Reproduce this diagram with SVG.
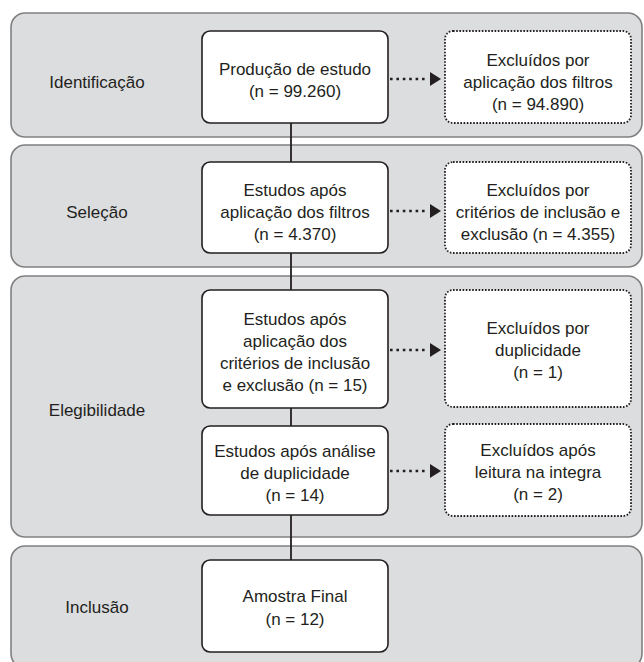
<svg xmlns="http://www.w3.org/2000/svg" width="644" height="662" viewBox="0 0 644 662">
<style>
.panel{fill:#dcdddf;stroke:#808082;stroke-width:1.6}
.box{fill:#ffffff;stroke:#231f20;stroke-width:1.6}
.dbox{fill:#ffffff;stroke:#231f20;stroke-width:1.8;stroke-dasharray:1.6 1.6}
.t{font-family:"Liberation Sans",Arial,sans-serif;font-size:17px;fill:#231f20;text-anchor:middle}
.vline{stroke:#231f20;stroke-width:1.8;fill:none}
.dline{stroke:#231f20;stroke-width:2.6;stroke-dasharray:2.6 3.8;fill:none}
</style>
<rect width="644" height="662" fill="#ffffff"/>
<g id="panel-identificacao">
<rect class="panel" x="11" y="13" width="631" height="124" rx="14"/>
<text class="t" x="97" y="88">Identificação</text>
</g>
<g id="panel-selecao">
<rect class="panel" x="11" y="145" width="631" height="122" rx="14"/>
<text class="t" x="97" y="218">Seleção</text>
</g>
<g id="panel-elegibilidade">
<rect class="panel" x="11" y="276" width="631" height="261" rx="14"/>
<text class="t" x="97" y="416">Elegibilidade</text>
</g>
<g id="panel-inclusao">
<rect class="panel" x="11" y="546" width="631" height="122" rx="14"/>
<text class="t" x="97" y="613">Inclusão</text>
</g>
<g id="connectors">
<line class="vline" x1="291" y1="123" x2="291" y2="162"/>
<line class="vline" x1="291" y1="253" x2="291" y2="290"/>
<line class="vline" x1="291" y1="408" x2="291" y2="426"/>
<line class="vline" x1="291" y1="515" x2="291" y2="560"/>
<line class="dline" x1="390" y1="79" x2="428" y2="79"/>
<path d="M430,72 L441,79 L430,86 Z" fill="#231f20"/>
<line class="dline" x1="390" y1="211" x2="428" y2="211"/>
<path d="M430,204 L441,211 L430,218 Z" fill="#231f20"/>
<line class="dline" x1="390" y1="350" x2="428" y2="350"/>
<path d="M430,343 L441,350 L430,357 Z" fill="#231f20"/>
<line class="dline" x1="390" y1="471" x2="428" y2="471"/>
<path d="M430,464 L441,471 L430,478 Z" fill="#231f20"/>
</g>
<g id="producao">
<rect class="box" x="202" y="31" width="186" height="92" rx="8"/>
<text class="t" x="295" y="75">Produção de estudo</text>
<text class="t" x="295" y="97">(n = 99.260)</text>
</g>
<g id="excluidos-filtros">
<rect class="dbox" x="445" y="31" width="186" height="92" rx="8"/>
<text class="t" x="538" y="66">Excluídos por</text>
<text class="t" x="538" y="88">aplicação dos filtros</text>
<text class="t" x="538" y="110">(n = 94.890)</text>
</g>
<g id="estudos-filtros">
<rect class="box" x="202" y="162" width="186" height="91" rx="8"/>
<text class="t" x="295" y="196">Estudos após</text>
<text class="t" x="295" y="218">aplicação dos filtros</text>
<text class="t" x="295" y="240">(n = 4.370)</text>
</g>
<g id="excluidos-criterios">
<rect class="dbox" x="445" y="162" width="186" height="91" rx="8"/>
<text class="t" x="538" y="196">Excluídos por</text>
<text class="t" x="538" y="218">critérios de inclusão e</text>
<text class="t" x="538" y="240">exclusão (n = 4.355)</text>
</g>
<g id="estudos-criterios">
<rect class="box" x="202" y="290" width="186" height="118" rx="8"/>
<text class="t" x="295" y="325">Estudos após</text>
<text class="t" x="295" y="347">aplicação dos</text>
<text class="t" x="295" y="369">critérios de inclusão</text>
<text class="t" x="295" y="391">e exclusão (n = 15)</text>
</g>
<g id="excluidos-duplicidade">
<rect class="dbox" x="445" y="290" width="186" height="117" rx="8"/>
<text class="t" x="538" y="334">Excluídos por</text>
<text class="t" x="538" y="356">duplicidade</text>
<text class="t" x="538" y="378">(n = 1)</text>
</g>
<g id="estudos-duplicidade">
<rect class="box" x="202" y="426" width="186" height="89" rx="8"/>
<text class="t" x="295" y="457">Estudos após análise</text>
<text class="t" x="295" y="479">de duplicidade</text>
<text class="t" x="295" y="501">(n = 14)</text>
</g>
<g id="excluidos-leitura">
<rect class="dbox" x="445" y="424" width="186" height="92" rx="8"/>
<text class="t" x="538" y="456">Excluídos após</text>
<text class="t" x="538" y="478">leitura na integra</text>
<text class="t" x="538" y="500">(n = 2)</text>
</g>
<g id="amostra-final">
<rect class="box" x="202" y="560" width="186" height="92" rx="8"/>
<text class="t" x="295" y="602">Amostra Final</text>
<text class="t" x="295" y="625">(n = 12)</text>
</g>
</svg>
